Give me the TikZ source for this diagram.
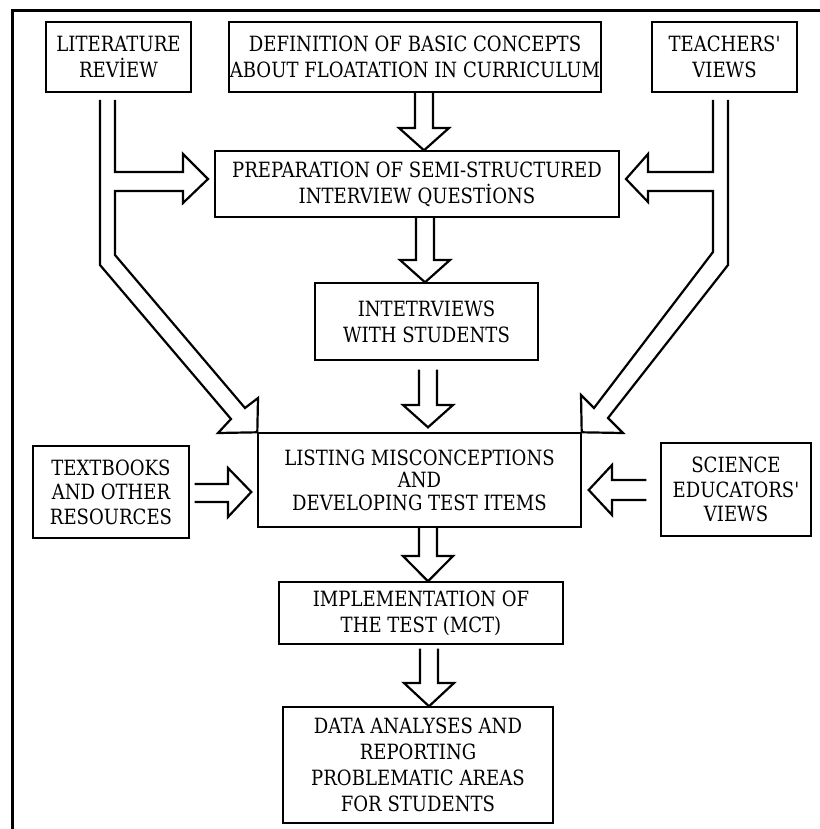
\documentclass[tikz,border=0pt]{standalone}
\usepackage{fontspec}
\newfontfamily\dvs{DejaVu Serif}[FakeStretch=0.86]
\usetikzlibrary{calc}
% block arrow pointing down: #1 source, #2 target, #3 x centre, #4 y of head top, #5 gap below source, #6 gap above target
\newcommand\bdown[6]{%
  \draw[barrow] let \p1=(#1.south), \p2=(#2.north) in
    (#3pt-9pt,\y1-#5pt) -- (#3pt-9pt,-#4pt) -- (#3pt-25pt,-#4pt) -- (#3pt,\y2+#6pt)
    -- (#3pt+25pt,-#4pt) -- (#3pt+9pt,-#4pt) -- (#3pt+9pt,\y1-#5pt);}
\begin{document}
\begin{tikzpicture}[x=1pt,y=-1pt,
  box/.style={draw, line width=1.4pt, rectangle, inner sep=0pt, align=center,
    font=\dvs\fontsize{21}{26}\selectfont},
  barrow/.style={draw, line width=2.2pt, line join=miter},
  dline/.style={draw, line width=2.2pt, line join=miter}]
\useasboundingbox (0,0) rectangle (819,829);
\draw[line width=3pt] (12,845) -- (12,11) -- (835,11);

\node[box, minimum width=145pt, minimum height=70pt] (lit) at (118.5,57) {LITERATURE\\REVİEW};
\node[box, minimum width=372pt, minimum height=70pt] (def) at (415,57) {DEFINITION OF BASIC CONCEPTS\\ABOUT FLOATATION IN CURRICULUM};
\node[box, minimum width=145pt, minimum height=70pt] (tea) at (724.5,57) {TEACHERS'\\VIEWS};
\node[box, minimum width=404pt, minimum height=66pt] (prep) at (417,184) {PREPARATION OF SEMI-STRUCTURED\\INTERVIEW QUESTİONS};
\node[box, minimum width=223pt, minimum height=77pt] (intv) at (426.5,321.5) {INTETRVIEWS\\WITH STUDENTS};
\node[box, minimum width=323pt, minimum height=94pt, font=\dvs\fontsize{21}{22.5}\selectfont] (list) at (419.5,480) {LISTING MISCONCEPTIONS\\AND\\DEVELOPING TEST ITEMS};
\node[box, minimum width=156pt, minimum height=92pt, font=\dvs\fontsize{21}{24.5}\selectfont] (text) at (111,492) {TEXTBOOKS\\AND OTHER\\RESOURCES};
\node[box, minimum width=150pt, minimum height=93pt, font=\dvs\fontsize{21}{24.5}\selectfont] (sci) at (736,489.5) {SCIENCE\\EDUCATORS'\\VIEWS};
\node[box, minimum width=284pt, minimum height=62pt] (impl) at (421,613) {IMPLEMENTATION OF\\THE TEST (MCT)};
\node[box, minimum width=270pt, minimum height=116pt] (data) at (418,765) {DATA ANALYSES AND\\REPORTING\\PROBLEMATIC AREAS\\FOR STUDENTS};

% vertical block arrows
\bdown{def}{prep}{424}{128}{0}{0}
\bdown{prep}{intv}{425}{260}{0}{0}
\bdown{intv}{list}{428}{405}{9}{5}
\bdown{list}{impl}{428}{556}{0}{0}
\bdown{impl}{data}{429}{683}{4}{0}

% horizontal block arrows
\draw[barrow] let \p1=(text.east), \p2=(list.west) in
  (\x1+5pt,-484pt) -- (228pt,-484pt) -- (228pt,-468pt) -- (\x2-6pt,-492pt)
  -- (228pt,-517pt) -- (228pt,-502pt) -- (\x1+5pt,-502pt);
\draw[barrow] let \p1=(sci.west), \p2=(list.east) in
  (\x1-14pt,-480pt) -- (612pt,-480pt) -- (612pt,-465pt) -- (\x2+7pt,-490pt)
  -- (612pt,-515pt) -- (612pt,-500pt) -- (\x1-14pt,-500pt);

% branching double-line arrows
\coordinate (litA) at (100,100);
\coordinate (litB) at (115,100);
\draw[dline] (litA) -- (100,265) -- (231,419) -- (218,433) -- (list.north west) -- (258,398)
  -- (245,408) -- (115,255) -- (115,191) -- (183,191) -- (183,203) -- (208,179)
  -- (183,154) -- (183,172) -- (115,172) -- (litB);
\coordinate (teaA) at (728,100);
\coordinate (teaB) at (713,100);
\draw[dline] (teaA) -- (728,265) -- (608,418) -- (623,433) -- (list.north east) -- (581,395)
  -- (594,408) -- (713,252) -- (713,191) -- (648,191) -- (648,202) -- (626,179)
  -- (648,154) -- (648,172) -- (713,172) -- (teaB);
\end{tikzpicture}
\end{document}
